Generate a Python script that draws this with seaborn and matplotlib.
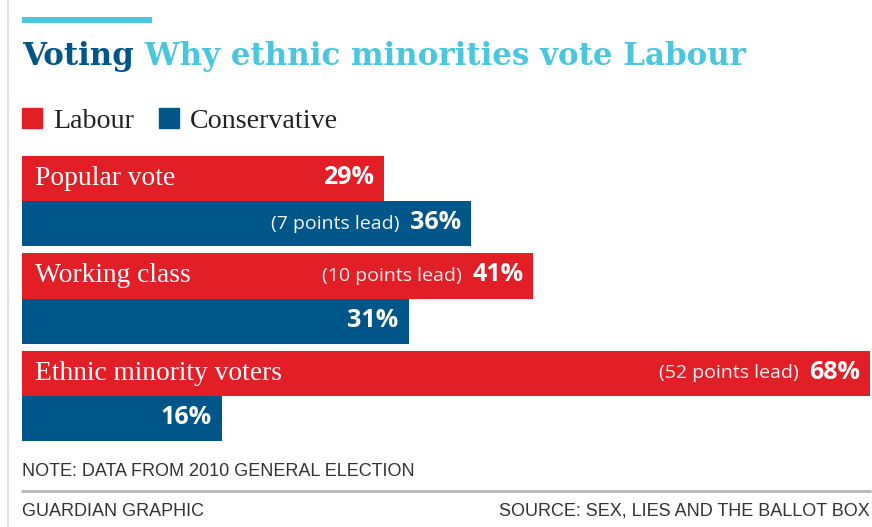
import pandas as pd
import matplotlib.pyplot as plt
import seaborn as sns
from matplotlib.patches import Patch, Rectangle
from matplotlib.lines import Line2D

# Share of the vote by group, 2010 general election
groups = ['Popular vote', 'Working class', 'Ethnic minority voters']
parties = ['Labour', 'Conservative']
labour = [29, 41, 68]
conservative = [36, 31, 16]

RED = '#e21f26'
BLUE = '#005689'
CYAN = '#4bc6df'
W, H = 872, 527

sns.set_theme(style='white')
plt.rcParams['font.family'] = ['DejaVu Sans']

SERIF = ['Liberation Serif', 'DejaVu Serif']
SANS = ['Open Sans', 'DejaVu Sans']
FOOT = ['Liberation Sans', 'DejaVu Sans']

df = pd.DataFrame({
    'group': groups * 2,
    'party': [parties[0]] * len(groups) + [parties[1]] * len(groups),
    'share': labour + conservative,
})

fig = plt.figure(figsize=(W / 100, H / 100), dpi=100)
ax = fig.add_axes([22 / W, 1 - 441 / H, (870 - 22) / W, (441 - 156) / H])
sns.barplot(data=df, y='group', x='share', hue='party', order=groups,
            hue_order=parties, palette=[RED, BLUE], saturation=1,
            width=0.93, orient='h', linewidth=0, legend=False, ax=ax)
ax.set_xlim(0, 68)
ax.set_ylim(2.465, -0.465)
ax.set_axis_off()

# value labels, lead text and group names
leads = [l - c for l, c in zip(labour, conservative)]
for i, cont in enumerate(ax.containers):
    for j, bar in enumerate(cont):
        val = bar.get_width()
        yc = bar.get_y() + bar.get_height() / 2
        pct = ax.annotate(f'{val:.0f}%', xy=(val, yc), xytext=(-10, 1),
                          textcoords='offset pixels', ha='right', va='center',
                          color='white', fontsize=18, fontweight='bold',
                          family=SANS)
        winner = 0 if leads[j] > 0 else 1
        if i == winner and abs(leads[j]) > 0:
            ax.annotate(f'({abs(leads[j])} points lead)', xy=(0, 0.5),
                        xycoords=pct, xytext=(-10, -1),
                        textcoords='offset pixels', ha='right', va='center',
                        color='#f2f2f2', fontsize=14, family=SANS)
        if i == 0:
            ax.annotate(groups[j], xy=(0, yc), xytext=(13, 0),
                        textcoords='offset pixels', ha='left', va='center',
                        color='white', fontsize=19.8, family=SERIF)

# title
t1 = fig.text(22 / W, 1 - 65 / H, 'Voting', color=BLUE, fontsize=26,
              fontweight='bold', family=['DejaVu Serif'], va='baseline')
t2 = fig.text(0, 0, ' Why ethnic minorities vote Labour', color=CYAN,
              fontsize=26, fontweight='bold', family=['DejaVu Serif'])
fig.canvas.draw()
r = fig.canvas.get_renderer()
w = t1.get_window_extent(r).width + t2.get_window_extent(r).width
fs = 26 * (746 - 22) / w
t1.set_fontsize(fs)
t2.set_fontsize(fs)
fig.canvas.draw()
x1 = t1.get_window_extent(r).x1
t2.set_position((x1 / W, 1 - 65 / H))
t2.set_va('baseline')

fig.patches.append(Rectangle((22 / W, 1 - 23 / H), 130 / W, 6 / H,
                             transform=fig.transFigure, color=CYAN, lw=0))

# legend
handles = [Patch(color=RED, label=parties[0]), Patch(color=BLUE, label=parties[1])]
fig.legend(handles=handles, loc='center left',
           bbox_to_anchor=(22 / W, 1 - 121 / H), ncol=2, frameon=False,
           prop={'family': SERIF, 'size': 20.2}, handlelength=0.72,
           handleheight=0.72, handletextpad=0.38, columnspacing=0.9,
           borderpad=0, borderaxespad=0, labelcolor='#222222')

# frame lines
fig.add_artist(Line2D([8 / W, 8 / W], [0, 1], color='#e2e2e2', lw=1.5))
fig.add_artist(Line2D([22 / W, 870 / W], [1 - 491 / H] * 2,
                      color='#b5b5b5', lw=2))

fig.text(22 / W, 1 - 472 / H, 'NOTE: DATA FROM 2010 GENERAL ELECTION',
         va='center', ha='left', fontsize=13, color='#333333', family=FOOT)
fig.text(22 / W, 1 - 511 / H, 'GUARDIAN GRAPHIC',
         va='center', ha='left', fontsize=13, color='#333333', family=FOOT)
fig.text(870 / W, 1 - 511 / H, 'SOURCE: SEX, LIES AND THE BALLOT BOX',
         va='center', ha='right', fontsize=13, color='#333333', family=FOOT)

fig.savefig('out.png', dpi=100)
